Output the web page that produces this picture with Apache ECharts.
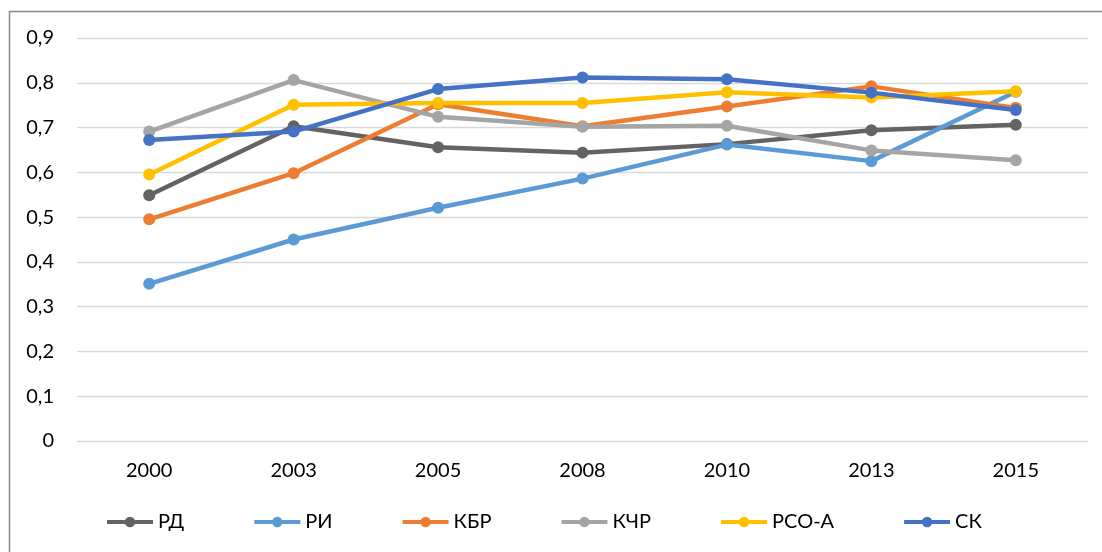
<!DOCTYPE html>
<html>
<head>
<meta charset="utf-8">
<script src="https://cdn.jsdelivr.net/npm/echarts@6/dist/echarts.min.js"></script>
<style>
  html, body { margin: 0; padding: 0; background: #fff; }
  #chart { width: 1102px; height: 552px; }
</style>
</head>
<body>
<div id="chart"></div>
<script>
// годы
const years = ['2000', '2003', '2005', '2008', '2010', '2013', '2015']
// значения по регионам
const rd = [0.549, 0.703, 0.656, 0.644, 0.663, 0.694, 0.706]
const ri = [0.351, 0.450, 0.521, 0.586, 0.662, 0.625, 0.780]
const kbr = [0.495, 0.598, 0.752, 0.703, 0.747, 0.792, 0.744]
const kchr = [0.691, 0.806, 0.724, 0.702, 0.704, 0.649, 0.627]
const rsoa = [0.595, 0.751, 0.755, 0.755, 0.779, 0.767, 0.781]
const sk = [0.672, 0.691, 0.786, 0.812, 0.808, 0.778, 0.739]
const yTicks = [0, 0.1, 0.2, 0.3, 0.4, 0.5, 0.6, 0.7, 0.8, 0.9]

const names = ['РД', 'РИ', 'КБР', 'КЧР', 'РСО-А', 'СК']
const colors = ['#636363', '#5B9BD5', '#ED7D31', '#A5A5A5', '#FFC000', '#4472C4']
const values = [rd, ri, kbr, kchr, rsoa, sk]

const font = 'Lato, "Open Sans", sans-serif'

const myChart = echarts.init(document.getElementById('chart'))
myChart.setOption({
  animation: false,
  textStyle: { fontFamily: font },
  graphic: [
    {
      type: 'rect',
      shape: { x: 9.5, y: 11.5, width: 1100, height: 560 },
      style: { fill: 'none', stroke: '#898989', lineWidth: 1.5 },
    },
  ],
  grid: { left: 77, right: 14, top: 38, bottom: 111 },
  legend: {
    left: 100,
    top: 507,
    itemWidth: 46,
    itemHeight: 13,
    itemGap: 68,
    lineStyle: { width: 4 },
    textStyle: { fontSize: 20, color: '#000', fontFamily: font },
    data: names,
  },
  xAxis: {
    type: 'category',
    data: years,
    boundaryGap: true,
    axisLine: { show: true, lineStyle: { color: '#d9d9d9', width: 1 } },
    axisTick: { show: false },
    axisLabel: { color: '#000', fontSize: 20, margin: 20, fontFamily: font },
  },
  yAxis: {
    type: 'value',
    min: yTicks[0],
    max: yTicks[yTicks.length - 1],
    interval: 0.1,
    axisLine: { show: false },
    axisTick: { show: false },
    splitLine: { lineStyle: { color: '#d9d9d9', width: 1.3 } },
    axisLabel: {
      color: '#000',
      fontSize: 20,
      margin: 23,
      fontFamily: font,
      formatter: (v) => (Math.round(v * 10) / 10).toString().replace('.', ','),
    },
  },
  series: names.map((name, i) => ({
    name: name,
    type: 'line',
    data: values[i],
    symbol: 'circle',
    symbolSize: 12,
    color: colors[i],
    lineStyle: { width: 4.5, color: colors[i] },
    itemStyle: { color: colors[i] },
  })),
})
</script>
</body>
</html>
